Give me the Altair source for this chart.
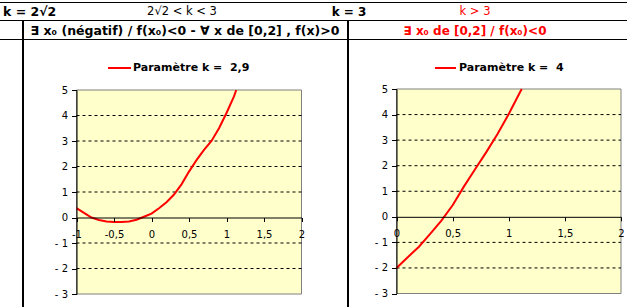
import altair as alt
import pandas as pd

# ---------------- data ----------------
xL = [-1.0, -0.9, -0.8, -0.7, -0.6, -0.5, -0.4, -0.3, -0.2, -0.1, 0.0, 0.1, 0.2,
      0.3, 0.4, 0.5, 0.6, 0.7, 0.8, 0.9, 1.0, 1.1, 1.13]
yL = [0.37, 0.18, 0.0, -0.1, -0.16, -0.18, -0.18, -0.16, -0.09, 0.03, 0.15, 0.36, 0.6,
      0.9, 1.3, 1.8, 2.25, 2.65, 3.0, 3.5, 4.1, 4.75, 5.0]
xR = [0.0, 0.1, 0.2, 0.3, 0.4, 0.5, 0.6, 0.7, 0.8, 0.9, 1.0, 1.1, 1.116]
yR = [-2.0, -1.58, -1.17, -0.67, -0.15, 0.45, 1.18, 1.86, 2.53, 3.24, 4.02, 4.87, 5.0]

y_ticks = [-3, -2, -1, 0, 1, 2, 3, 4, 5]
grid_levels = [-2, -1, 1, 2, 3, 4]
xL_ticks = [-1, -0.5, 0, 0.5, 1, 1.5, 2]
xR_ticks = [0, 0.5, 1, 1.5, 2]
xL_domain = [-1, 2]
xR_domain = [0, 2]
y_domain = [-3, 5]

row1_texts = ["k = 2\u221a2", "2\u221a2 < k < 3", "k = 3", "k > 3"]
row2_texts = ["\u2203 x\u2080 (n\u00e9gatif) / f(x\u2080)<0 - \u2200 x de [0,2] , f(x)>0",
              "\u2203 x\u2080 de [0,2] / f(x\u2080)<0"]
legend_texts = ["Param\u00e8tre k =\u00a0\u00a02,9", "Param\u00e8tre k =\u00a0\u00a04"]

FONT = "DejaVu Sans"
W, H = 631, 307
one = alt.Data(values=[{}])


def txt(s, x, y, size=11, bold=True, color="black", align="left"):
    return alt.Chart(one).mark_text(
        text=s, align=align, baseline="middle", fontSize=size,
        fontWeight="bold" if bold else "normal", color=color, font=FONT
    ).encode(x=alt.value(x), y=alt.value(y))


def hline(y, x1, x2, w=1):
    return alt.Chart(one).mark_rule(color="black", strokeWidth=w).encode(
        x=alt.value(x1), x2=alt.value(x2), y=alt.value(y))


def vline(x, y1, y2, w=2):
    return alt.Chart(one).mark_rule(color="black", strokeWidth=w).encode(
        x=alt.value(x), y=alt.value(y1), y2=alt.value(y2))


def panel(xs, ys, xdom, xticks, xrange, yrange):
    xsc = alt.Scale(domain=xdom, range=xrange, nice=False, zero=False)
    ysc = alt.Scale(domain=y_domain, range=yrange, nice=False, zero=False)
    y0px = yrange[0] + (0 - y_domain[0]) / (y_domain[1] - y_domain[0]) * (yrange[1] - yrange[0])
    xaxis = alt.Axis(orient="bottom", offset=y0px - H, values=xticks, title=None, grid=False,
                     domainColor="black", tickColor="black", tickSize=4, labelPadding=8,
                     labelFont=FONT, labelFontSize=10, labelColor="black", labelFlush=False,
                     labelExpr="replace(toString(datum.value), '.', ',')", zindex=1)
    yaxis = alt.Axis(orient="left", offset=-xrange[0], values=y_ticks, title=None, grid=False,
                     domainColor="black", tickColor="black", tickSize=5, labelPadding=4,
                     labelFont=FONT, labelFontSize=10, labelColor="black",
                     labelExpr="datum.value < 0 ? '- ' + abs(datum.value) : '' + datum.value",
                     zindex=1)
    bgdf = pd.DataFrame({"x": [xdom[0]], "x2": [xdom[1]], "y": [y_domain[0]], "y2": [y_domain[1]]})
    bg = alt.Chart(bgdf).mark_rect(fill="#FFFFCC", stroke="#808080", strokeWidth=1).encode(
        x=alt.X("x:Q", scale=xsc, axis=xaxis), x2="x2:Q",
        y=alt.Y("y:Q", scale=ysc, axis=yaxis), y2="y2:Q")
    gdf = pd.DataFrame({"x": [xdom[0]] * len(grid_levels), "x2": [xdom[1]] * len(grid_levels),
                        "y": grid_levels})
    grid = alt.Chart(gdf).mark_rule(color="black", strokeWidth=1, strokeDash=[3, 3]).encode(
        x=alt.X("x:Q", scale=xsc, axis=xaxis), x2="x2:Q",
        y=alt.Y("y:Q", scale=ysc, axis=yaxis))
    cdf = pd.DataFrame({"x": xs, "y": ys})
    curve = alt.Chart(cdf).mark_line(color="#FF0000", strokeWidth=2).encode(
        x=alt.X("x:Q", scale=xsc, axis=xaxis),
        y=alt.Y("y:Q", scale=ysc, axis=yaxis))
    return alt.layer(bg, grid, curve)


left = panel(xL, yL, xL_domain, xL_ticks, [76.5, 301.5], [294, 90])
right = panel(xR, yR, xR_domain, xR_ticks, [396.5, 621], [293.5, 89])

decor = [
    hline(2.5, 0, 627), hline(20.5, 0, 627), hline(39.5, 0, 627),
    vline(23, 20.5, H), vline(348, 20.5, H),
    txt(row1_texts[0], 3, 12, size=12.5),
    txt(row1_texts[1], 182, 12, size=11.5, bold=False, align="center"),
    txt(row1_texts[2], 349, 12, size=12, align="center"),
    txt(row1_texts[3], 475, 12, size=11.5, bold=False, color="#FF0000", align="center"),
    txt(row2_texts[0], 185, 31, size=12.5, align="center"),
    txt(row2_texts[1], 475, 31, size=12, color="#FF0000", align="center"),
    alt.Chart(one).mark_rule(color="#FF0000", strokeWidth=2).encode(
        x=alt.value(108), x2=alt.value(131), y=alt.value(68)),
    txt(legend_texts[0], 133, 68, size=11),
    alt.Chart(one).mark_rule(color="#FF0000", strokeWidth=2).encode(
        x=alt.value(435), x2=alt.value(456), y=alt.value(68)),
    txt(legend_texts[1], 459, 68, size=11),
]

chart = alt.layer(left, right, *decor).resolve_scale(
    x="independent", y="independent"
).properties(
    width=W, height=H, padding=0, autosize=alt.AutoSizeParams(type="none"),
    background="white"
).configure_view(stroke=None)

chart.save("out.html", embed_options={"renderer": "svg", "actions": False})
